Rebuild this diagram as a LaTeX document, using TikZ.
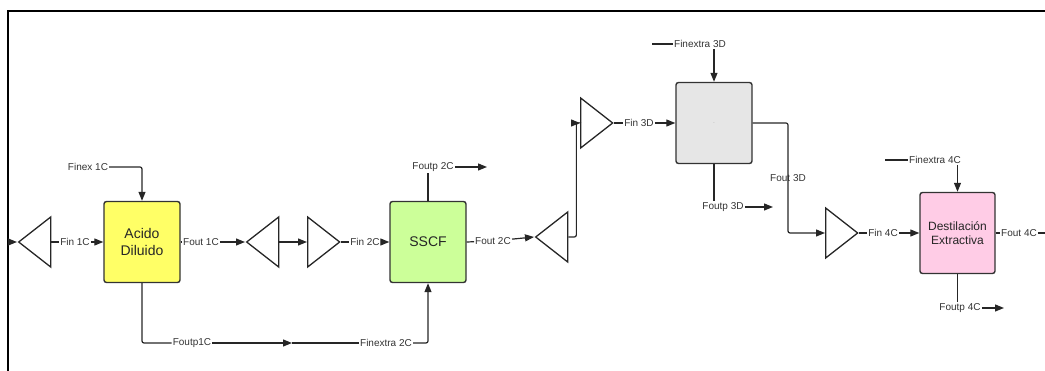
\documentclass[tikz,border=0pt]{standalone}
\usepackage{fontspec}
\setmainfont{Liberation Sans}
\usetikzlibrary{arrows.meta,shapes.geometric}
\definecolor{acidoyellow}{HTML}{FFFF66}
\definecolor{sscfgreen}{HTML}{CCFF99}
\definecolor{unitgrey}{HTML}{E6E6E6}
\definecolor{destpink}{HTML}{FFCCE6}

\begin{document}
\begin{tikzpicture}[x=1pt, y=-1pt,
  line/.style={line width=1.2pt, draw=black!85, rounded corners=2pt},
  flow/.style={line, -{Triangle[length=9pt,width=7pt]}},
  lbl/.style={font=\fontsize{10}{12}\selectfont, text=black!80, inner sep=1pt},
  unit/.style={draw=black!80, line width=1.4pt, rounded corners=2.5pt, minimum width=76pt,
    minimum height=81pt, inner sep=2pt, align=center, text=black!85,
    font=\fontsize{14}{16.5}\selectfont},
  tri/.style={isosceles triangle, isosceles triangle stretches, draw=black!85, line width=1.3pt,
    minimum width=50pt, minimum height=32pt, inner sep=0pt}]
  \useasboundingbox (0,0) rectangle (1045,371);
  % frame of the sheet
  \draw[line width=2pt] (8,371) -- (8,11.5) -- (1045,11.5);

  % process units
  \node[unit, fill=acidoyellow] (acido) at (142,242) {Acido\\Diluido};
  \node[unit, fill=sscfgreen] (sscf) at (428,242) {SSCF};
  \node[unit, fill=unitgrey, text=black!50, font=\tiny] (dest3) at (714,123) {.};
  \node[unit, fill=destpink, minimum width=75pt, font=\fontsize{12}{14.5}\selectfont] (dest4) at (957.5,233) {Destilación\\Extractiva};

  % mixers / splitters
  \node[tri, shape border rotate=180, anchor=west] (t1) at (17,242) {};
  \node[tri, shape border rotate=180, anchor=west] (t2) at (245,242) {};
  \node[tri, anchor=west] (t3) at (307,242) {};
  \node[tri, shape border rotate=180, anchor=west] (t4) at (534,237) {};
  \node[tri, anchor=west] (t5) at (580,123) {};
  \node[tri, anchor=west] (t6) at (825,233) {};

  % stream labels
  \node[lbl] (finex1) at (88,167) {Finex 1C};
  \node[lbl] (fin1) at (75,242) {Fin 1C};
  \node[lbl] (fout1) at (201,242) {Fout 1C};
  \node[lbl] (foutp1) at (192,343) {Foutp1C};
  \node[lbl] (finx2) at (386,343) {Finextra 2C};
  \node[lbl] (fin2) at (365,242) {Fin 2C};
  \node[lbl] (foutp2) at (433,167) {Foutp 2C};
  \node[lbl] (fout2) at (493,241) {Fout 2C};
  \node[lbl] (fin3) at (639,123) {Fin 3D};
  \node[lbl] (finx3) at (700,44) {Finextra 3D};
  \node[lbl] (foutp3) at (723,207) {Foutp 3D};
  \node[lbl] (fout3) at (788,178) {Fout 3D};
  \node[lbl] (fin4) at (883,233) {Fin 4C};
  \node[lbl] (finx4) at (935,160) {Finextra 4C};
  \node[lbl] (foutp4) at (960,308) {Foutp 4C};
  \node[lbl] (fout4) at (1019,233) {Fout 4C};

  % free ends
  \coordinate (feed1) at (8,242);
  \coordinate (mid1) at (292,343);
  \coordinate (end2) at (487,167);
  \coordinate (feed3) at (652,44);
  \coordinate (end3) at (773,207);
  \coordinate (feed4) at (885,160);
  \coordinate (end4) at (1004,308);
  \coordinate (out4) at (1045,233);

  % first stage
  \draw[flow] (feed1) -- (t1.west);
  \draw[line] (t1.east) -- (fin1);
  \draw[flow] (fin1) -- (acido.west);
  \draw[flow] (finex1.east) -| (acido.north);
  \draw[line] (acido.east) -- (fout1);
  \draw[flow] (fout1) -- (t2.west);
  \draw[flow] (t2.east) -- (t3.west);
  \draw[line] (acido.south) |- (foutp1);
  \draw[flow] (foutp1) -- (mid1);
  \draw[line] (mid1) -- (finx2);

  % second stage
  \draw[line] (t3.east) -- (fin2);
  \draw[flow] (fin2) -- (sscf.west);
  \draw[flow] (finx2) -| (sscf.south);
  \draw[line] (sscf.north) -- (sscf.north |- foutp2.south);
  \draw[flow] (foutp2) -- (end2);
  \draw[line] (sscf.east) -- (fout2);
  \draw[flow] (fout2) -- (t4.west);
  \draw[flow] (t4.east) -- ++(8,0) |- (t5.west);

  % third stage
  \draw[line] (t5.east) -- (fin3);
  \draw[flow] (fin3) -- (dest3.west);
  \draw[line] (feed3) -- (finx3);
  \draw[flow] (finx3.south -| dest3.north) -- (dest3.north);
  \draw[line] (dest3.south) -- (dest3.south |- foutp3.north);
  \draw[flow] (foutp3) -- (end3);
  \draw[flow] (dest3.east) -| (fout3.center) |- (t6.west);

  % fourth stage
  \draw[line] (t6.east) -- (fin4);
  \draw[flow] (fin4) -- (dest4.west);
  \draw[line] (feed4) -- (finx4);
  \draw[flow] (finx4.south -| dest4.north) -- (dest4.north);
  \draw[line] (dest4.south) -- (dest4.south |- foutp4.north);
  \draw[flow] (foutp4) -- (end4);
  \draw[line] (dest4.east) -- (fout4);
  \draw[line] (fout4) -- (out4);
\end{tikzpicture}
\end{document}
